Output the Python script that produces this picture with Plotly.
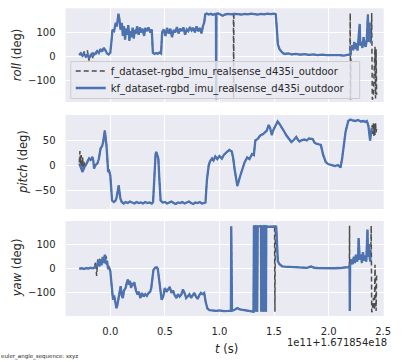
import plotly.graph_objects as go

# ---------------- data ----------------
LABEL_F = "f_dataset-rgbd_imu_realsense_d435i_outdoor"
LABEL_KF = "kf_dataset-rgbd_imu_realsense_d435i_outdoor"

x_ticks = [0.0, 0.5, 1.0, 1.5, 2.0, 2.5]
roll_ticks = [-100, 0, 100]
pitch_ticks = [-50, 0, 50]
yaw_ticks = [-100, 0, 100]

roll_t = [
    -0.285, -0.27, -0.255, -0.24, -0.225, -0.21, -0.195, -0.18, -0.165, -0.15, -0.135, -0.12, -0.105, -0.09, -0.075, -0.06, -0.045, -0.03, -0.015, 0.0,
    0.01, 0.02, 0.035, 0.05, 0.06, 0.07, 0.075, 0.085, 0.095, 0.105, 0.115, 0.125, 0.135, 0.145, 0.155, 0.165, 0.175, 0.185, 0.195, 0.205, 0.215, 0.225, 0.235, 0.245, 0.26, 0.27, 0.28, 0.295, 0.31, 0.32, 0.335, 0.35, 0.365, 0.38,
    0.385, 0.39, 0.405, 0.42, 0.435, 0.45, 0.465, 0.47,
    0.475, 0.49, 0.505, 0.52, 0.535, 0.55, 0.565, 0.58, 0.595, 0.61, 0.625, 0.64, 0.655, 0.67, 0.685, 0.70, 0.715, 0.73, 0.745, 0.76, 0.775, 0.79, 0.805, 0.82, 0.835, 0.85, 0.86,
    0.87, 0.885, 0.90, 0.92, 0.94, 0.955, 0.968, 0.97, 0.972, 0.99, 1.01, 1.03, 1.05, 1.08, 1.11, 1.128, 1.13, 1.132, 1.17, 1.2, 1.23, 1.26, 1.29, 1.32, 1.35, 1.38, 1.41, 1.44, 1.47, 1.5, 1.515,
    1.525, 1.535, 1.55, 1.565, 1.58, 1.6, 1.63, 1.66, 1.7, 1.74, 1.78, 1.82, 1.86, 1.9, 1.94, 1.98, 2.02, 2.06, 2.1, 2.14, 2.18, 2.195, 2.198, 2.2,
    2.205, 2.215, 2.225, 2.235, 2.245, 2.255, 2.265, 2.275, 2.285, 2.29, 2.30, 2.31, 2.32, 2.33, 2.34, 2.35, 2.36, 2.365, 2.37, 2.375, 2.38, 2.39,
    2.395, 2.40, 2.41, 2.425, 2.43, 2.435, 2.44,
]
roll_kf = [
    5, 12, 2, 10, 0, 8, -8, 4, 12, 6, 16, 22, 14, 30, 20, 35, 25, 12, 8, 15,
    60, 110, 105, 140, 125, 170, 178, 150, 110, 140, 85, 125, 70, 115, 90, 130, 65, 105, 80, 120, 75, 110, 95, 125, 90, 120, 100, 115, 85, 118, 105, 120, 100, 112,
    60, 15, 10, 14, 11, 16, 12, 60,
    100, 112, 85, 118, 95, 115, 80, 110, 100, 122, 95, 115, 105, 120, 90, 112, 105, 122, 108, 118, 100, 125, 105, 118, 95, 128, 140,
    175, 178, 174, 177, 173, 176, 177, -179, 176, 178, 172, 169, 174, 177, 175, 177, 176, 177, 176, 174, 177, 175, 178, 176, 174, 177, 175, 178, 176, 178, 176,
    120, 50, 30, 20, 14, 10, 12, 8, 10, 7, 9, 6, 8, 5, 7, 5, 6, 4, 5, 3, 5, 8, 10, 12,
    30, 45, 25, 60, 30, 55, 25, 70, 135, 45, 60, 35, 80, 50, 40, 70, 174, 60, 100, 140, 70, 55,
    None, None, None, None, None, None, None,
]
roll_f = [
    8, 15, 0, 20, -5, 25, -18, 10, -10, 12, 5, 22, 14, 30, 20, 35, 25, 12, 8, 15,
    60, 110, 105, 140, 125, 170, 178, 150, 110, 140, 85, 125, 70, 115, 90, 130, 65, 105, 80, 120, 75, 110, 95, 125, 90, 120, 100, 115, 85, 118, 105, 120, 100, 112,
    60, 15, 10, 14, 11, 16, 12, 60,
    100, 112, 85, 118, 95, 115, 80, 110, 100, 122, 95, 115, 105, 120, 90, 112, 105, 122, 108, 118, 100, 125, 105, 118, 95, 128, 140,
    175, 178, 174, 177, 173, 176, 177, -179, 176, 178, 172, 169, 174, 177, 175, 177, -179, 177, 176, 174, 177, 175, 178, 176, 174, 177, 175, 178, 176, 178, 176,
    120, 50, 30, 20, 14, 10, 12, 8, 10, 7, 9, 6, 8, 5, 7, 5, 6, 4, 5, 3, 5, 8, 180, -180,
    30, 45, 25, 60, 30, 55, 25, 70, 135, 45, 60, 35, 80, 50, 40, 70, 174, 60, 100, 140, 70, 55,
    180, -180, -170, 40, -175, 30, -160,
]

pitch_t = [
    -0.284, -0.278, -0.272, -0.266, -0.26, -0.254, -0.248, -0.24, -0.232, -0.224, -0.21, -0.194, -0.18, -0.164, -0.155, -0.149, -0.135, -0.119, -0.105, -0.089, -0.075, -0.065, -0.05, -0.042, -0.035, -0.025, -0.02, -0.01, 0.0,
    0.008, 0.016, 0.032, 0.045, 0.056, 0.065, 0.077, 0.085, 0.092, 0.105, 0.122, 0.14, 0.16, 0.18, 0.2, 0.22, 0.24, 0.26, 0.28, 0.30, 0.32, 0.34, 0.36, 0.38, 0.392,
    0.40, 0.407, 0.415, 0.422, 0.432, 0.44, 0.45, 0.461,
    0.48, 0.50, 0.52, 0.54, 0.56, 0.58, 0.60, 0.62, 0.64, 0.66, 0.68, 0.70, 0.72, 0.74, 0.76, 0.78, 0.80, 0.82, 0.84, 0.86, 0.872,
    0.885, 0.902, 0.915, 0.932, 0.945, 0.962, 0.98, 1.0, 1.022, 1.04, 1.067, 1.09, 1.113, 1.125, 1.14, 1.164, 1.19, 1.209, 1.23, 1.254,
    1.275, 1.299, 1.315, 1.329, 1.35, 1.374, 1.40, 1.434, 1.45, 1.464, 1.48, 1.494, 1.515, 1.533, 1.55, 1.569, 1.59, 1.614, 1.635, 1.659,
    1.68, 1.704, 1.72, 1.734, 1.755, 1.779, 1.80, 1.82, 1.854, 1.87, 1.884, 1.91, 1.929, 1.95, 1.974, 1.995, 2.018, 2.04, 2.06, 2.085,
    2.109, 2.124, 2.14, 2.155, 2.18, 2.2, 2.22, 2.245, 2.27, 2.295, 2.32, 2.335, 2.35, 2.365, 2.38, 2.395,
    2.40, 2.405, 2.41, 2.415, 2.42, 2.425, 2.43, 2.435, 2.44,
]
pitch_kf = [
    3, 0, -5, -9, -12, -14, -10, -4, -2, 0, 8, 13, 10, 16, 8, -7, 0, 3, 12, 33, 38, 46, 69, 55, 39, 5, -14, -12, -21,
    -45, -71, -74, -72, -67, -55, -41, -55, -67, -74, -77, -74, -76, -73, -75, -77, -74, -76, -75, -77, -74, -76, -75, -77, -74,
    -30, 6, 22, 26, 20, 13, -30, -71,
    -75, -74, -77, -75, -73, -76, -78, -75, -76, -74, -77, -75, -73, -76, -78, -75, -76, -74, -77, -76, -75,
    -30, 0, 8, 13, 9, 17, 12, 18, 13, 20, 26, 30, 27, 15, -10, -42, -22, -7, 5, 15,
    12, 22, 20, 49, 52, 59, 62, 69, 80, 74, 60, 70, 80, 87, 82, 76, 68, 59, 52, 46,
    50, 56, 50, 47, 50, 51, 49, 53, 52, 45, 43, 42, 40, 20, 6, 2, 1, 0, -2, 0,
    -5, 13, 40, 66, 88, 91, 89, 88, 90, 87, 88, 86, 88, 78, 49, 74,
    None, None, None, None, None, None, None, None, None,
]
pitch_f = [
    5, 28, 2, 20, -5, 15, -10, 8, -2, 0, 8, 13, 10, 16, 8, -7, 0, 3, 12, 33, 38, 46, 69, 55, 39, 5, -14, -12, -21,
    -45, -71, -74, -72, -67, -55, -41, -55, -67, -74, -77, -74, -76, -73, -75, -77, -74, -76, -75, -77, -74, -76, -75, -77, -74,
    -30, 6, 22, 26, 20, 13, -30, -71,
    -75, -74, -77, -75, -73, -76, -78, -75, -76, -74, -77, -75, -73, -76, -78, -75, -76, -74, -77, -76, -75,
    -30, 0, 8, 13, 9, 17, 12, 18, 13, 20, 26, 30, 27, 15, -10, -42, -22, -7, 5, 15,
    12, 22, 20, 49, 52, 59, 62, 69, 80, 74, 60, 70, 80, 87, 82, 76, 68, 59, 52, 46,
    50, 56, 50, 47, 50, 51, 49, 53, 52, 45, 43, 42, 40, 20, 6, 2, 1, 0, -2, 0,
    -5, 13, 40, 66, 88, 91, 89, 88, 90, 87, 88, 86, 88, 78, 49, 74,
    80, 62, 85, 58, 82, 60, 84, 65, 75,
]

yaw_t = [
    -0.284, -0.26, -0.24, -0.22, -0.20, -0.18, -0.16, -0.145, -0.135, -0.125, -0.115, -0.11, -0.10, -0.09, -0.08, -0.07, -0.06, -0.05, -0.04, -0.03, -0.02, -0.01, 0.0,
    0.01, 0.016, 0.025, 0.035, 0.045, 0.056, 0.065, 0.075, 0.085, 0.095, 0.105, 0.115, 0.125, 0.14, 0.15, 0.16, 0.17, 0.18, 0.19, 0.20,
    0.21, 0.22, 0.235, 0.25, 0.26, 0.275, 0.29, 0.305, 0.32, 0.335, 0.35, 0.365, 0.375, 0.385, 0.395, 0.41, 0.425, 0.435, 0.445, 0.455,
    0.47, 0.485, 0.50, 0.515, 0.53, 0.545, 0.56, 0.575, 0.59, 0.605, 0.62, 0.635, 0.65, 0.665, 0.68, 0.695, 0.71, 0.725, 0.74, 0.755,
    0.77, 0.785, 0.80, 0.815, 0.83, 0.845, 0.86, 0.875, 0.89, 0.91, 0.94, 0.97, 1.0, 1.04, 1.08, 1.105, 1.108, 1.115, 1.14, 1.164,
    1.185, 1.209, 1.25, 1.30, 1.312,
    1.316, 1.325, 1.328, 1.332, 1.343, 1.346, 1.35, 1.38, 1.383, 1.386, 1.393, 1.396, 1.399, 1.408, 1.411, 1.414, 1.423, 1.426, 1.429, 1.45, 1.48, 1.505, 1.508, 1.512, 1.52,
    1.53, 1.535, 1.55, 1.575, 1.6, 1.65, 1.7, 1.75, 1.8, 1.84, 1.87, 1.9, 1.95, 2.0, 2.05, 2.1, 2.15, 2.18, 2.19, 2.192,
    2.194, 2.197, 2.21, 2.22, 2.23, 2.24, 2.25, 2.26, 2.27, 2.275, 2.285, 2.295, 2.305, 2.315, 2.325, 2.335, 2.345, 2.356, 2.362, 2.37, 2.378, 2.385,
    2.39, 2.395, 2.40, 2.41, 2.42, 2.425, 2.43, 2.435, 2.44,
]
yaw_kf = [
    1, 3, 0, 4, 2, 5, 3, 6, 15, 8, 25, 35, 10, 40, 15, 50, 25, 60, 20, 35, 0, 5, -8,
    -60, -107, -128, -110, -135, -163, -150, -128, -100, -72, -110, -121, -90, -79, -60, -44, -65, -50, -79, -58,
    -70, -55, -90, -107, -95, -121, -100, -115, -105, -112, -100, -95, -80, -40, -5, 5, 7, 0, -40, -90,
    -128, -115, -79, -95, -86, -75, -100, -90, -110, -121, -105, -115, -107, -86, -100, -121, -114, -105, -120, -110,
    -100, -115, -125, -110, -100, -105, -100, -140, -165, -172, -174, -175, -173, -176, -175, -174, 178, -174, -170, -163,
    -168, -170, -172, -175, -178,
    178, 178, -178, 178, 177, -178, 178, 178, -178, 178, 177, -178, 178, 178, -178, 178, 177, -178, 178, 176, 178, 177, 177, 177, 176,
    80, 32, 20, 11, 10, 8, 6, 7, 5, 10, 5, 4, 3, 4, 3, 4, 5, 8, 12, 12,
    -175, 15, 40, 20, 50, 25, 60, 30, 45, 129, 40, 60, 25, 70, 35, 55, 30, 164, 50, 104, 40, 30,
    None, None, None, None, None, None, None, None, None,
]
yaw_f = [
    1, 3, 0, 4, 2, 5, 3, 6, 30, -29, 40, 20, 45, 15, 40, 30, 50, 25, 55, 30, 0, 5, -8,
    -60, -107, -128, -110, -135, -163, -150, -128, -100, -72, -110, -121, -90, -79, -60, -44, -65, -50, -79, -58,
    -70, -55, -90, -107, -95, -121, -100, -115, -105, -112, -100, -95, -80, -40, -5, 5, 7, 0, -40, -90,
    -128, -115, -79, -95, -86, -75, -100, -90, -110, -121, -105, -115, -107, -86, -100, -121, -114, -105, -120, -110,
    -100, -115, -125, -110, -100, -105, -100, -140, -165, -172, -174, -175, -173, -176, -175, -174, 178, -174, -170, -163,
    -168, -170, -172, -175, -178,
    178, 178, -178, 178, 177, -178, 178, 178, -178, 178, 177, -178, 178, 178, -178, 178, 177, -178, 178, 176, 178, 177, -178, 177, 176,
    80, 32, 20, 11, 10, 8, 6, 7, 5, 10, 5, 4, 3, 4, 3, 4, 5, 8, 12, 180,
    -180, 15, 40, 20, 50, 25, 60, 30, 45, 129, 40, 60, 25, 70, 35, 55, 30, 164, 50, 104, 40, 30,
    180, -180, -175, -120, -170, 18, -65, -175, -20,
]

# ---------------- styling / layout ----------------
W, H = 404, 362
BLUE = "#4C72B0"
GRAY = "rgba(60,60,60,0.9)"
BG = "#EAEAF2"
TXT = "#262626"
FONT = "DejaVu Sans"

x_dom = [66.7 / W, 390.5 / W]
def ydom(top, bottom):
    return [1 - bottom / H, 1 - top / H]

panels = [
    (roll_t, roll_kf, roll_f, ydom(8.3, 102), [-190, 200], roll_ticks),
    (pitch_t, pitch_kf, pitch_f, ydom(115, 209), [-88, 100], pitch_ticks),
    (yaw_t, yaw_kf, yaw_f, ydom(221, 316), [-196, 200], yaw_ticks),
]

def leg(ycenter):
    return dict(
        x=72 / W, y=1 - ycenter / H, xanchor="left", yanchor="middle",
        bgcolor="rgba(0,0,0,0)", borderwidth=0,
        font=dict(family=FONT, size=10, color=TXT), itemwidth=30,
    )

fig = go.Figure()
layout = dict(
    width=W, height=H,
    margin=dict(l=0, r=0, t=0, b=0),
    paper_bgcolor="white", plot_bgcolor=BG,
    font=dict(family=FONT, size=10, color=TXT),
    showlegend=True,
    legend=leg(71),
    legend2=leg(88),
    shapes=[dict(
        type="rect", xref="paper", yref="paper", layer="above",
        x0=72 / W, x1=366 / W, y0=1 - 98.5 / H, y1=1 - 61.5 / H,
        fillcolor="rgba(234,234,242,0.8)", line=dict(color="#CCCCCC", width=1),
    )],
)

for i, (t, kf, f, dom, yr, yt) in enumerate(panels, start=1):
    sx = "" if i == 1 else str(i)
    fig.add_trace(go.Scatter(
        x=t, y=f, mode="lines", name=LABEL_F, showlegend=(i == 1), legend="legend",
        line=dict(color=GRAY, width=1.5, dash="5px,3px"),
        xaxis="x" + sx, yaxis="y" + sx, connectgaps=False,
    ))
    fig.add_trace(go.Scatter(
        x=t, y=kf, mode="lines", name=LABEL_KF, showlegend=(i == 1), legend="legend2",
        line=dict(color=BLUE, width=2.3),
        xaxis="x" + sx, yaxis="y" + sx, connectgaps=False,
    ))
    layout["xaxis" + sx] = dict(
        domain=x_dom, anchor="y" + sx, range=[-0.41, 2.505],
        tickvals=x_ticks, tickformat=".1f",
        showticklabels=(i == 3), ticks="", ticklabelstandoff=8,
        showgrid=True, gridcolor="white", gridwidth=1,
        zeroline=False, showline=False,
        tickfont=dict(family=FONT, size=10, color=TXT),
    )
    layout["yaxis" + sx] = dict(
        domain=dom, anchor="x" + sx, range=yr, tickvals=yt,
        ticks="", ticklabelstandoff=9,
        showgrid=True, gridcolor="white", gridwidth=1,
        zeroline=False, showline=False,
        tickfont=dict(family=FONT, size=10, color=TXT),
    )

def ann(text, x, y, size, angle=0, xanchor="center", yanchor="middle"):
    return dict(text=text, x=x / W, y=1 - y / H, xref="paper", yref="paper",
                showarrow=False, textangle=angle, xanchor=xanchor, yanchor=yanchor,
                borderpad=0, font=dict(family=FONT, size=size, color=TXT))

layout["annotations"] = [
    ann("<i>roll</i> (deg)", 17.5, 55, 11.5, -90),
    ann("<i>pitch</i> (deg)", 23.5, 162, 11.5, -90),
    ann("<i>yaw</i> (deg)", 17.5, 268, 11.5, -90),
    ann("<i>t</i> (s)", 231, 349, 11.5),
    ann("1e11+1.671854e18", 395, 342, 10, xanchor="right"),
    ann("euler_angle_sequence: sxyz", 0.5, 356, 5.5, xanchor="left"),
]
fig.update_layout(**layout)

fig.write_html("out.html", config={"displayModeBar": False},
               post_script="document.body.style.margin='0px';")
